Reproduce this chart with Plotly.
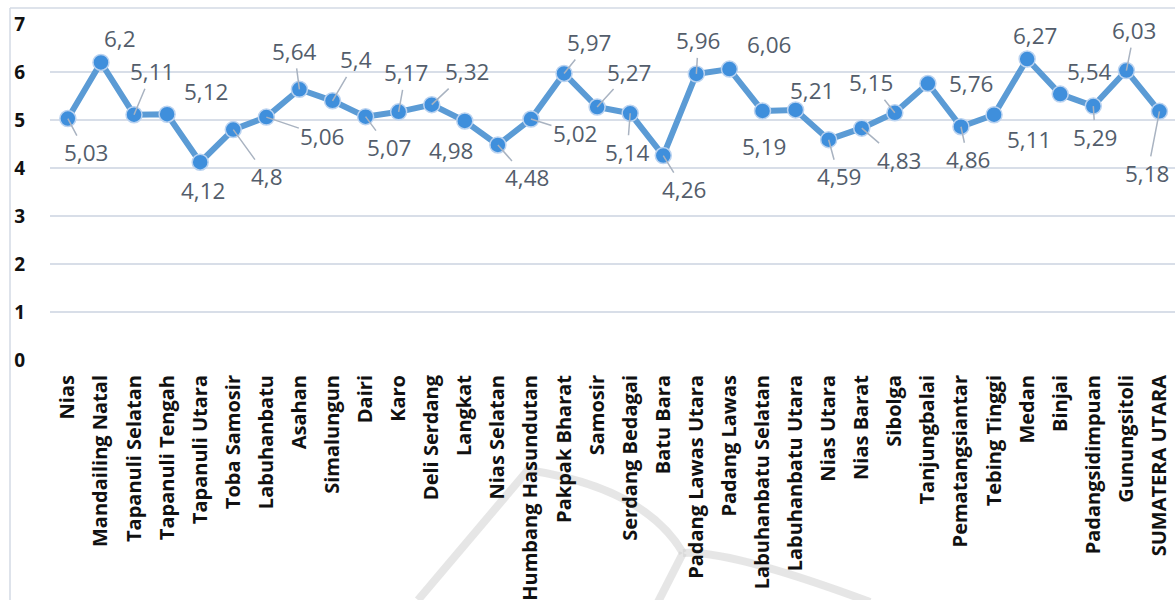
import plotly.graph_objects as go

# ---- data ----
regions = [
    "Nias", "Mandailing Natal", "Tapanuli Selatan", "Tapanuli Tengah", "Tapanuli Utara",
    "Toba Samosir", "Labuhanbatu", "Asahan", "Simalungun", "Dairi", "Karo", "Deli Serdang",
    "Langkat", "Nias Selatan", "Humbang Hasundutan", "Pakpak Bharat", "Samosir",
    "Serdang Bedagai", "Batu Bara", "Padang Lawas Utara", "Padang Lawas",
    "Labuhanbatu Selatan", "Labuhanbatu Utara", "Nias Utara", "Nias Barat", "Sibolga",
    "Tanjungbalai", "Pematangsiantar", "Tebing Tinggi", "Medan", "Binjai",
    "Padangsidimpuan", "Gunungsitoli", "SUMATERA UTARA",
]
values = [
    5.03, 6.2, 5.11, 5.12, 4.12, 4.8, 5.06, 5.64, 5.4, 5.07, 5.17, 5.32, 4.98, 4.48,
    5.02, 5.97, 5.27, 5.14, 4.26, 5.96, 6.06, 5.19, 5.21, 4.59, 4.83, 5.15, 5.76,
    4.86, 5.11, 6.27, 5.54, 5.29, 6.03, 5.18,
]
y_ticks = [0, 1, 2, 3, 4, 5, 6, 7]

# ---- label placement (style: pixel offsets of label centre, leader line flag) ----
label_offsets = [
    (18, 34, True), (19, -24, False), (18, -43, True), (39, -23, False), (3, 28, False),
    (34, 47, True), (56, 19, True), (-5, -38, True), (24, -41, True), (23, 31, True),
    (7, -39, True), (35, -33, True), (-14, 30, False), (29, 33, True), (44, 14, True),
    (25, -31, True), (32, -35, True), (-3, 39, True), (21, 34, True), (2, -33, True),
    (40, -25, False), (1, 36, False), (16, -19, False), (10, 37, True), (37, 32, True),
    (-24, -30, True), (43, 0, False), (7, 33, True), (35, 25, False), (8, -24, False),
    (29, -23, False), (2, 31, True), (8, -40, True), (-12, 62, True),
]

W, H = 1175, 600
L, R, T, B = 50, 0, 24, 240
PW, PH = W - L - R, H - T - B


def px(x, y):
    return (x - L) / PW, (H - B - y) / PH


def path(points_cmds):
    out = []
    for cmd, pts in points_cmds:
        coords = " ".join(f"{px(x, y)[0]:.5f},{px(x, y)[1]:.5f}" for x, y in pts)
        out.append(f"{cmd} {coords}")
    return " ".join(out)


fig = go.Figure()

fig.add_trace(go.Scatter(
    x=regions, y=values, mode="lines+markers",
    line=dict(color="#5B9BD5", width=6),
    marker=dict(size=16, color="#3F8FDC", line=dict(color="#BBD3F0", width=1.5)),
    cliponaxis=False, hoverinfo="x+y",
))

label_font = dict(family="Open Sans", size=22.5, color="#535d6b")
for cat, v, (dx, dy, leader) in zip(regions, values, label_offsets):
    text = f"{v:g}".replace(".", ",")
    if leader:
        fig.add_annotation(
            x=cat, y=v, text=text, showarrow=True, arrowhead=0, arrowwidth=1.5,
            arrowcolor="#a9b3c1", ax=dx, ay=dy, standoff=0, font=label_font,
        )
    else:
        fig.add_annotation(
            x=cat, y=v, text=text, showarrow=False, xshift=dx, yshift=-dy,
            font=label_font,
        )

shapes = []
# chart border (top and left)
x0, y0 = px(10, 8)
x1, _ = px(W + 5, 8)
_, yb = px(10, H + 5)
shapes.append(dict(type="line", xref="paper", yref="paper", x0=x0, y0=y0, x1=x1, y1=y0,
                   line=dict(color="#d3dae4", width=1.5), layer="below"))
shapes.append(dict(type="line", xref="paper", yref="paper", x0=x0, y0=y0, x1=x0, y1=yb,
                   line=dict(color="#d3dae4", width=1.5), layer="below"))
# faint watermark
wm = dict(color="rgba(205,205,205,0.5)", width=8)
shapes.append(dict(type="path", xref="paper", yref="paper", layer="below", line=wm,
                   path=path([("M", [(418, 600)]), ("L", [(528, 470)]),
                              ("Q", [(645, 488), (683, 553)])])))
shapes.append(dict(type="path", xref="paper", yref="paper", layer="below", line=wm,
                   path=path([("M", [(683, 553)]), ("Q", [(730, 550), (870, 602)])])))
shapes.append(dict(type="path", xref="paper", yref="paper", layer="below", line=wm,
                   path=path([("M", [(683, 553)]), ("L", [(658, 602)])])))

fig.update_layout(
    width=W, height=H,
    margin=dict(l=L, r=R, t=T, b=B, pad=0, autoexpand=False),
    paper_bgcolor="white", plot_bgcolor="white",
    showlegend=False, shapes=shapes,
    xaxis=dict(
        type="category", range=[-0.54, 33.47], tickangle=-90, automargin=False,
        tickfont=dict(family="Open Sans", size=20, color="#111111", weight="bold"),
        showgrid=False, showline=False, zeroline=False, ticks="",
        ticklabelstandoff=10,
    ),
    yaxis=dict(
        range=[0, 7], tickvals=y_ticks, showgrid=True, gridcolor="#d8dee8", gridwidth=2,
        zeroline=False, showline=False, ticks="", automargin=False,
        tickfont=dict(family="Open Sans", size=19, color="#111111", weight="bold"),
        ticklabelstandoff=24,
    ),
)

fig.write_html("out.html")
